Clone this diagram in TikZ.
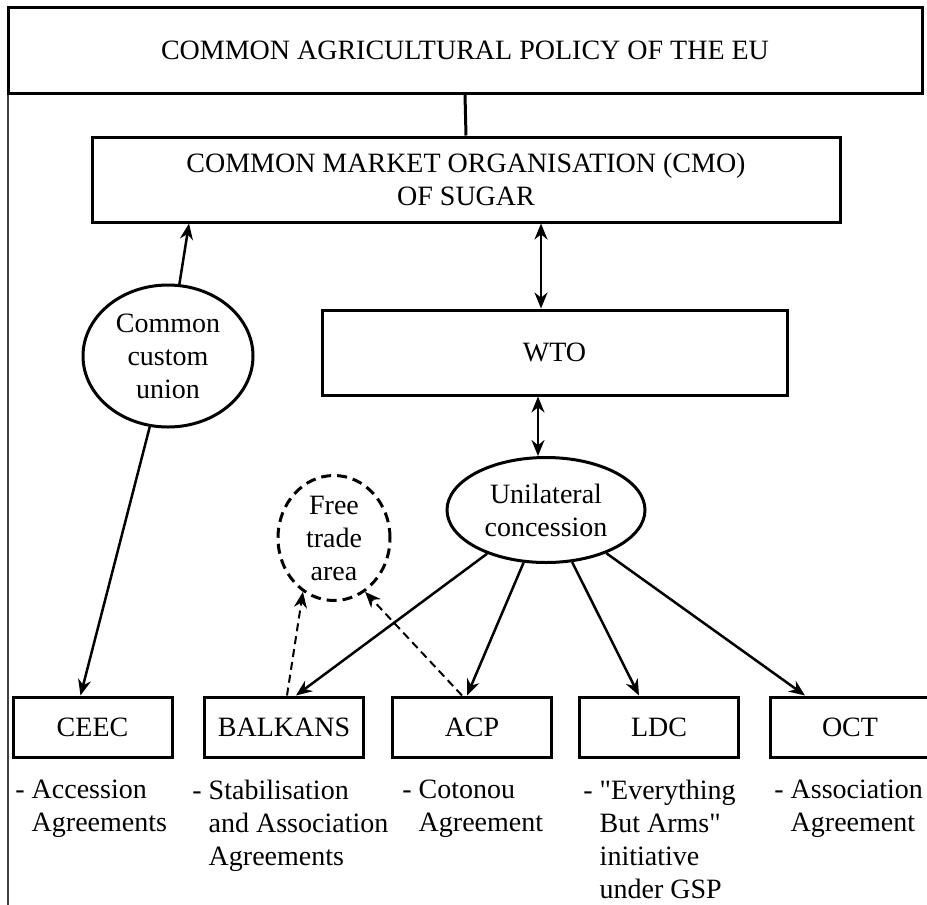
\documentclass[tikz,border=0pt]{standalone}
\usepackage{fontspec}
\setmainfont{Liberation Serif}[Ligatures=TeXOff]
\usetikzlibrary{arrows.meta,shapes.geometric}
\newcommand{\notesat}[3]{\node[notes] (#1) at (#2) {#3};}
\tikzset{
  box/.style={draw,line width=1.5pt,rectangle,inner sep=0pt},
  smallbox/.style={box,minimum width=79.5pt,minimum height=30pt},
  oval/.style={draw,line width=1.5pt,ellipse,inner sep=0pt,align=center},
  notes/.style={anchor=north west,align=left,inner sep=0pt},
  arr/.style={line width=1.25pt,-{Stealth[length=8pt,width=6.5pt]}},
  twoway/.style={line width=1.25pt,{Stealth[length=8pt,width=6.5pt]}-{Stealth[length=8pt,width=6.5pt]}},
  dasharr/.style={arr,line width=1pt,dash pattern=on 4pt off 2.5pt}
}

\begin{document}
\begin{tikzpicture}[x=0.5pt,y=-0.5pt,font=\fontsize{14}{16.5}\selectfont]
\useasboundingbox (0,0) rectangle (927,905);
\draw[black!75,line width=0.6pt] (8,93)--(8,905);
\node[box,minimum width=457pt,minimum height=43pt] (cap) at (465,50) {COMMON AGRICULTURAL POLICY OF THE EU};
\node[box,minimum width=374pt,minimum height=42.5pt,align=center] (cmo) at (466,179.5) {COMMON MARKET ORGANISATION (CMO)\\OF SUGAR};
\node[box,minimum width=232.5pt,minimum height=42.5pt] (wto) at (554.5,352.5) {WTO};
\node[oval,minimum width=85pt,minimum height=71pt] (ccu) at (168,356) {Common\\custom\\union};
\node[oval,minimum width=99pt,minimum height=52.5pt] (uni) at (546,510) {Unilateral\\concession};
\node[oval,dash pattern=on 5pt off 3pt,minimum width=56pt,minimum height=62.5pt] (fta) at (334,538) {Free\\trade\\area};
\foreach \name/\x/\txt in {ceec/92.5/CEEC,balkans/284/BALKANS,acp/472/ACP,ldc/659/LDC,oct/850/OCT}{
  \node[smallbox] (\name) at (\x,727) {\txt};
}
\draw[line width=1.5pt] (cap.south) -- (cmo.north);
\draw[arr] (ccu) -- ([xshift=-138.5pt]cmo.south);
\draw[arr] (ccu) -- ([xshift=-6pt]ceec.north);
\draw[twoway] ([xshift=37.5pt]cmo.south) -- ([xshift=-6.75pt]wto.north);
\draw[twoway] ([xshift=-8.25pt]wto.south) -- ([xshift=-4pt]uni.north);
\draw[arr] (uni) -- ([xshift=6pt]balkans.north);
\draw[arr] (uni) -- ([xshift=-2.5pt]acp.north);
\draw[arr] (uni) -- ([xshift=-10pt]ldc.north);
\draw[arr] (uni) -- ([xshift=-22.5pt]oct.north);
\draw[dasharr] ([xshift=1.5pt]balkans.north) -- (fta.240);
\draw[dasharr] ([xshift=-5pt]acp.north) -- (fta.300);
\notesat{n1}{15,780}{-~Accession\\\phantom{-~}Agreements}
\notesat{n2}{192,780}{-~Stabilisation\\\phantom{-~}and Association\\\phantom{-~}Agreements}
\notesat{n3}{402,780}{-~Cotonou\\\phantom{-~}Agreement}
\notesat{n4}{583,780}{-~"Everything\\\phantom{-~}But Arms"\\\phantom{-~}initiative\\\phantom{-~}under GSP}
\notesat{n5}{774,780}{-~Association\\\phantom{-~}Agreement}
\end{tikzpicture}
\end{document}
